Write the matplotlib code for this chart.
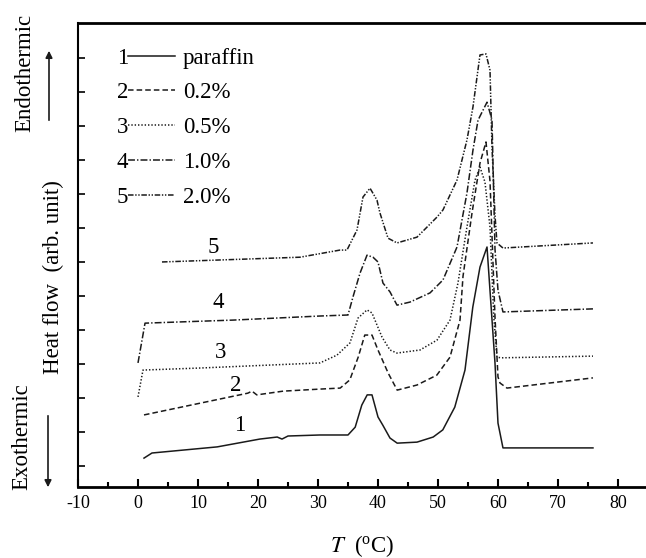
import matplotlib
matplotlib.use("Agg")
import matplotlib.pyplot as plt

plt.rcParams['font.family'] = ['Liberation Serif', 'DejaVu Serif']
plt.rcParams['mathtext.fontset'] = 'stix'
plt.rcParams['lines.scale_dashes'] = False
plt.rcParams['axes.unicode_minus'] = False

# DSC curves, heat flow in arbitrary units (offset per sample)
t1 = [1.0, 2.33, 13.2, 20.3, 23.2, 24.0, 25.0, 30.3, 35.0, 36.2, 37.3, 38.2, 39.0, 40.0,
      40.8, 42.0, 43.2, 46.5, 49.2, 50.8, 52.8, 54.5, 55.8, 57.0, 58.17, 59.5, 60.0, 60.83, 75.83]
q1 = [0.85, 1.0, 1.18, 1.41, 1.47, 1.41, 1.5, 1.53, 1.53, 1.76, 2.41, 2.71, 2.71, 2.06,
      1.82, 1.44, 1.29, 1.32, 1.47, 1.68, 2.35, 3.44, 5.29, 6.47, 7.06, 3.65, 1.88, 1.15, 1.15]

t2 = [1.0, 18.3, 19.0, 19.8, 24.2, 30.3, 33.7, 35.3, 36.7, 37.8, 39.0, 40.0, 41.7, 43.2,
      46.5, 49.8, 52.0, 53.67, 54.17, 55.67, 57.0, 58.0, 58.67, 59.5, 60.0, 60.33, 61.5, 75.83]
q2 = [2.12, 2.76, 2.82, 2.71, 2.82, 2.88, 2.91, 3.15, 3.82, 4.47, 4.47, 4.03, 3.35, 2.85,
      3.0, 3.29, 3.82, 4.91, 6.2, 8.06, 9.53, 10.15, 9.0, 5.0, 3.24, 3.06, 2.91, 3.21]

t3 = [0.0, 0.83, 10.33, 30.33, 33.17, 35.33, 36.67, 38.17, 39.0, 40.67, 42.0, 43.17, 47.0,
      49.83, 52.0, 53.33, 54.83, 56.17, 57.0, 57.83, 58.67, 59.3, 59.83, 60.5, 75.83]
q3 = [2.65, 3.44, 3.5, 3.65, 3.88, 4.24, 4.97, 5.21, 5.12, 4.41, 4.03, 3.94, 4.03,
      4.32, 4.91, 6.0, 7.65, 9.03, 9.41, 8.97, 7.65, 5.0, 3.82, 3.8, 3.85]

t4 = [0.0, 1.17, 15.83, 30.33, 35.0, 35.83, 37.0, 38.17, 39.17, 40.0, 40.83, 42.0, 43.17,
      45.33, 48.67, 50.83, 53.17, 54.83, 55.83, 56.67, 58.17, 59.0, 59.3, 59.5, 60.0, 60.83, 75.83]
q4 = [3.65, 4.82, 4.91, 5.03, 5.06, 5.59, 6.29, 6.82, 6.76, 6.62, 6.0, 5.74, 5.35,
      5.44, 5.71, 6.09, 7.06, 8.65, 9.91, 10.79, 11.32, 10.8, 8.5, 7.0, 5.79, 5.15, 5.24]

t5 = [4.0, 27.0, 33.67, 34.83, 36.5, 37.5, 38.67, 39.83, 40.33, 41.67, 43.17, 46.5, 49.83,
      50.83, 53.17, 54.83, 55.83, 57.0, 58.0, 58.67, 59.0, 59.5, 59.83, 60.83, 75.83]
q5 = [6.62, 6.76, 6.97, 6.97, 7.56, 8.53, 8.79, 8.44, 8.06, 7.32, 7.18, 7.35, 7.94,
      8.15, 9.03, 10.21, 11.18, 12.71, 12.74, 12.26, 10.0, 8.0, 7.18, 7.03, 7.18]

labels = ['paraffin', '0.2%', '0.5%', '1.0%', '2.0%']
numbers = ['1', '2', '3', '4', '5']
curves = [(t1, q1), (t2, q2), (t3, q3), (t4, q4), (t5, q5)]
styles = ['-', (0, (4, 2.2)), (0, (1, 1.4)), (0, (5, 1.5, 1, 1.5)),
          (0, (4, 1.2, 1, 1.2, 1, 1.2))]
# number tags next to each curve (x, y)
tag_x = [17.0, 16.2, 13.7, 13.3, 12.5]
tag_y = [1.82, 3.0, 3.97, 5.44, 7.06]

FS = 16.5

fig = plt.figure(figsize=(6.46, 5.58), dpi=100)
ax = fig.add_axes([78 / 646, 71 / 558, 1 - 78 / 646, 464 / 558])

for (t, q), ls, lab in zip(curves, styles, labels):
    ax.plot(t, q, color='#1a1a1a', lw=1.1, linestyle=ls, label=lab)

for n, x, y in zip(numbers, tag_x, tag_y):
    ax.text(x, y, n, fontsize=FS, ha='center', va='center')

ax.set_xlim(-10, 84.67)
ax.set_ylim(0, 13.65)
ax.set_xticks(range(-10, 81, 10))
ax.set_xticks(range(-5, 81, 10), minor=True)
ax.set_yticks([0.62 + k for k in range(13)])
ax.set_yticklabels([])
ax.tick_params(axis='x', which='major', direction='in', length=6, width=1.5,
               labelsize=13, pad=6)
ax.tick_params(axis='x', which='minor', direction='in', length=3.5, width=1.5)
ax.tick_params(axis='y', direction='in', length=5, width=1.2)
ax.spines['right'].set_visible(False)
ax.spines['top'].set_linewidth(2)
ax.spines['bottom'].set_linewidth(2)
ax.spines['left'].set_linewidth(1.5)

ax.set_xlabel(r'$T$  ($\mathregular{^{o}}$C)', fontsize=FS, labelpad=15)

leg = ax.legend(loc='upper left', bbox_to_anchor=(0.088, 0.947), frameon=False,
                fontsize=FS, handlelength=2.05, handletextpad=0.35, labelspacing=0.6,
                borderaxespad=0, borderpad=0)
for h in leg.get_lines():
    h.set_linewidth(1.1)

# put the numbers in front of the legend lines
fig.canvas.draw()
inv = fig.transFigure.inverted()
for h, n in zip(leg.get_lines(), numbers):
    bb = h.get_window_extent()
    x0, y0 = inv.transform((bb.x0, (bb.y0 + bb.y1) / 2))
    fig.text(x0, y0, n, fontsize=FS, ha='right', va='center_baseline')

fig.text(53 / 646, 1 - 277 / 558, 'Heat flow  (arb. unit)', rotation=90,
         fontsize=FS, ha='center', va='center')
fig.text(25 / 646, 1 - 73 / 558, 'Endothermic', rotation=90,
         fontsize=FS, ha='center', va='center')
fig.text(22 / 646, 1 - 437 / 558, 'Exothermic', rotation=90,
         fontsize=FS, ha='center', va='center')
ax.annotate('', xy=(49 / 646, 1 - 48 / 558), xytext=(49 / 646, 1 - 123 / 558),
            xycoords='figure fraction', textcoords='figure fraction',
            arrowprops=dict(arrowstyle='-|>', lw=1.2, color='#1a1a1a'))
ax.annotate('', xy=(48 / 646, 1 - 490 / 558), xytext=(48 / 646, 1 - 413 / 558),
            xycoords='figure fraction', textcoords='figure fraction',
            arrowprops=dict(arrowstyle='-|>', lw=1.2, color='#1a1a1a'))

fig.savefig('out.png', dpi=100)
